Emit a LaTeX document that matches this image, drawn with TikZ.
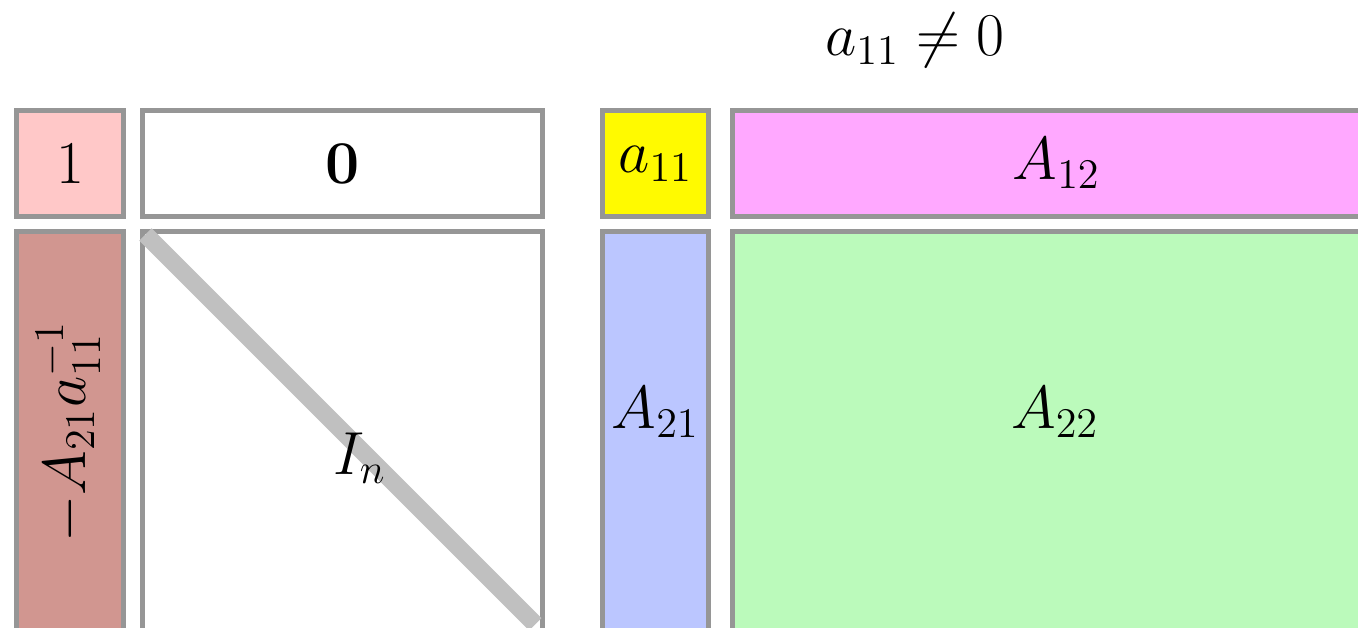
\documentclass[tikz,border=0pt]{standalone}
\usepackage{tikz}
\usetikzlibrary{positioning,calc}
\definecolor{Edge}{RGB}{150,150,150}
\definecolor{Diag}{RGB}{192,192,192}
\definecolor{SoftRed}{RGB}{255,200,200}
\definecolor{Rose}{RGB}{209,150,144}
\definecolor{Lemon}{RGB}{255,250,0}
\definecolor{SoftMagenta}{RGB}{255,168,255}
\definecolor{SoftBlue}{RGB}{187,198,255}
\definecolor{SoftGreen}{RGB}{187,250,187}
\tikzset{
  blk/.style={draw=Edge,line width=1.45pt,fill=white,inner sep=0pt,font=\fontsize{16.8}{20}\selectfont},
  lbl/.style={font=\fontsize{16.8}{20}\selectfont,inner sep=1pt},
  diag/.style={line width=5pt,draw=Diag,line cap=butt,shorten <=0.08cm,shorten >=0.14cm}
}
\begin{document}
\begin{tikzpicture}[x=0.01cm,y=-0.01cm]
  \useasboundingbox (0,0) rectangle (1358,628);
  \clip (0,0) rectangle (1358,628);
  % left factor
  \node[blk,fill=SoftRed,minimum width=1.07cm,minimum height=1.06cm] (one) at (70,163.5) {$1$};
  \node[blk,minimum width=4cm,minimum height=1.06cm] (zero) at (342.5,163.5) {$\mathbf{0}$};
  \node[blk,fill=Rose,minimum width=1.07cm,minimum height=4cm] (col) at (70,431.5) {};
  \node[lbl,rotate=90] (coltxt) at (68,432) {$-A_{21}a_{11}^{-1}$};
  \node[blk,minimum width=4cm,minimum height=4cm] (eye) at (342.5,431.5) {};
  \draw[diag] (eye.north west)--(eye.south east);
  \node[lbl] (eyetxt) at (360,458) {$I_n$};
  % right factor
  \node[lbl] (cond) at (915,40) {$a_{11}\neq 0$};
  \node[blk,fill=Lemon,minimum width=1.06cm,minimum height=1.06cm] (a11) at (655.5,163.5) {$a_{11}$};
  \node[blk,fill=SoftMagenta,minimum width=6.48cm,minimum height=1.06cm] (a12) at (1056.5,163.5) {$A_{12}$};
  \node[blk,fill=SoftBlue,minimum width=1.06cm,minimum height=4cm] (a21) at (655.5,431.5) {};
  \node[lbl] (a21txt) at (655.5,412) {$A_{21}$};
  \node[blk,fill=SoftGreen,minimum width=6.48cm,minimum height=4cm] (a22) at (1056.5,431.5) {};
  \node[lbl] (a22txt) at (1055,412) {$A_{22}$};
\end{tikzpicture}
\end{document}
